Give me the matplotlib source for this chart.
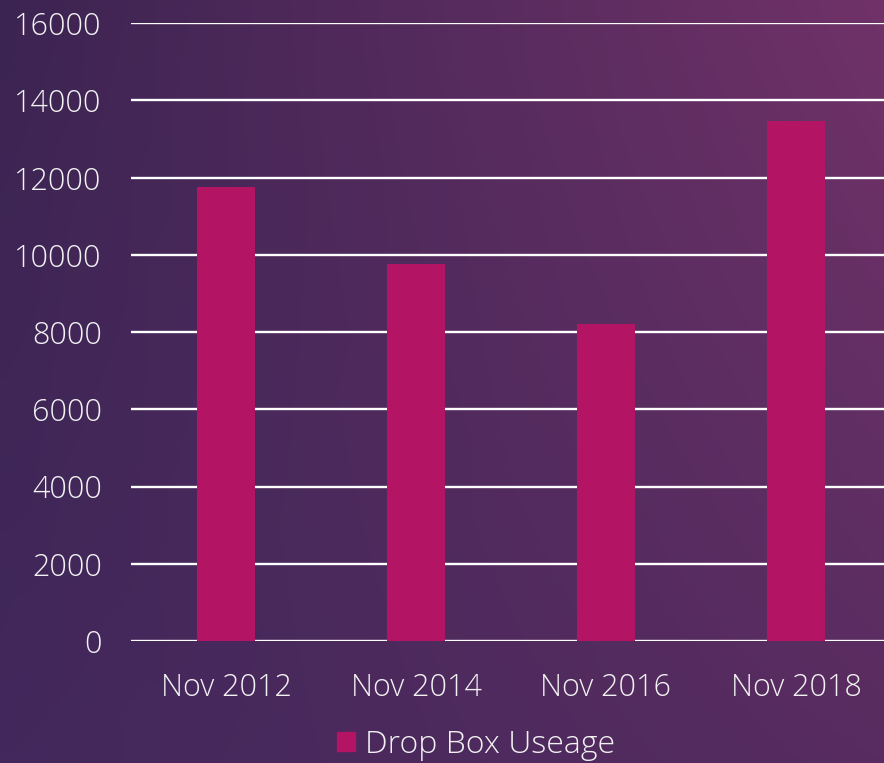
import numpy as np
import matplotlib
matplotlib.use('Agg')
import matplotlib.pyplot as plt
from matplotlib.patches import Patch

categories = ['Nov 2012', 'Nov 2014', 'Nov 2016', 'Nov 2018']
usage = [11750, 9750, 8200, 13450]
series_name = 'Drop Box Useage'

bar_color = '#B31463'
text_color = '#F2F2F2'

plt.rcParams['font.family'] = ['Open Sans', 'DejaVu Sans']
plt.rcParams['font.weight'] = 'light'

fig = plt.figure(figsize=(8.84, 7.63), dpi=100)

# background gradient (corners: TL, TR, BL, BR)
tl = np.array([60, 36, 82]) / 255
tr = np.array([112, 50, 104]) / 255
bl = np.array([66, 40, 92]) / 255
br = np.array([88, 44, 96]) / 255
h, w = 100, 120
yy, xx = np.mgrid[0:1:h * 1j, 0:1:w * 1j]
grad = ((1 - yy)[..., None] * ((1 - xx)[..., None] * tl + xx[..., None] * tr)
        + yy[..., None] * ((1 - xx)[..., None] * bl + xx[..., None] * br))
bg = fig.add_axes([0, 0, 1, 1], zorder=-1)
bg.imshow(grad, aspect='auto', interpolation='bilinear')
bg.axis('off')

ax = fig.add_axes([131 / 884, 122 / 763, 760 / 884, 618 / 763])
ax.patch.set_alpha(0)
x = np.arange(len(categories))
ax.bar(x, usage, width=0.31, color=bar_color, zorder=3, label=series_name)

ax.set_ylim(0, 16000)
ax.set_xlim(-0.5, 3.5)
ax.set_yticks(range(0, 16001, 2000))
ax.set_xticks(x)
ax.set_xticklabels(categories)
ax.yaxis.grid(True, color='white', linewidth=1.7, zorder=1)
ax.set_axisbelow(True)
for s in ax.spines.values():
    s.set_visible(False)
ax.tick_params(length=0, labelsize=22, colors=text_color)
ax.tick_params(axis='y', pad=21)
ax.tick_params(axis='x', pad=22)

handle = [Patch(color=bar_color, label=series_name)]
fig.legend(handles=handle, loc='center', bbox_to_anchor=(476 / 884, 1 - 745 / 763),
           frameon=False, fontsize=23, labelcolor=text_color,
           handlelength=0.55, handleheight=0.55, handletextpad=0.3)

fig.savefig('out.png', dpi=100)
